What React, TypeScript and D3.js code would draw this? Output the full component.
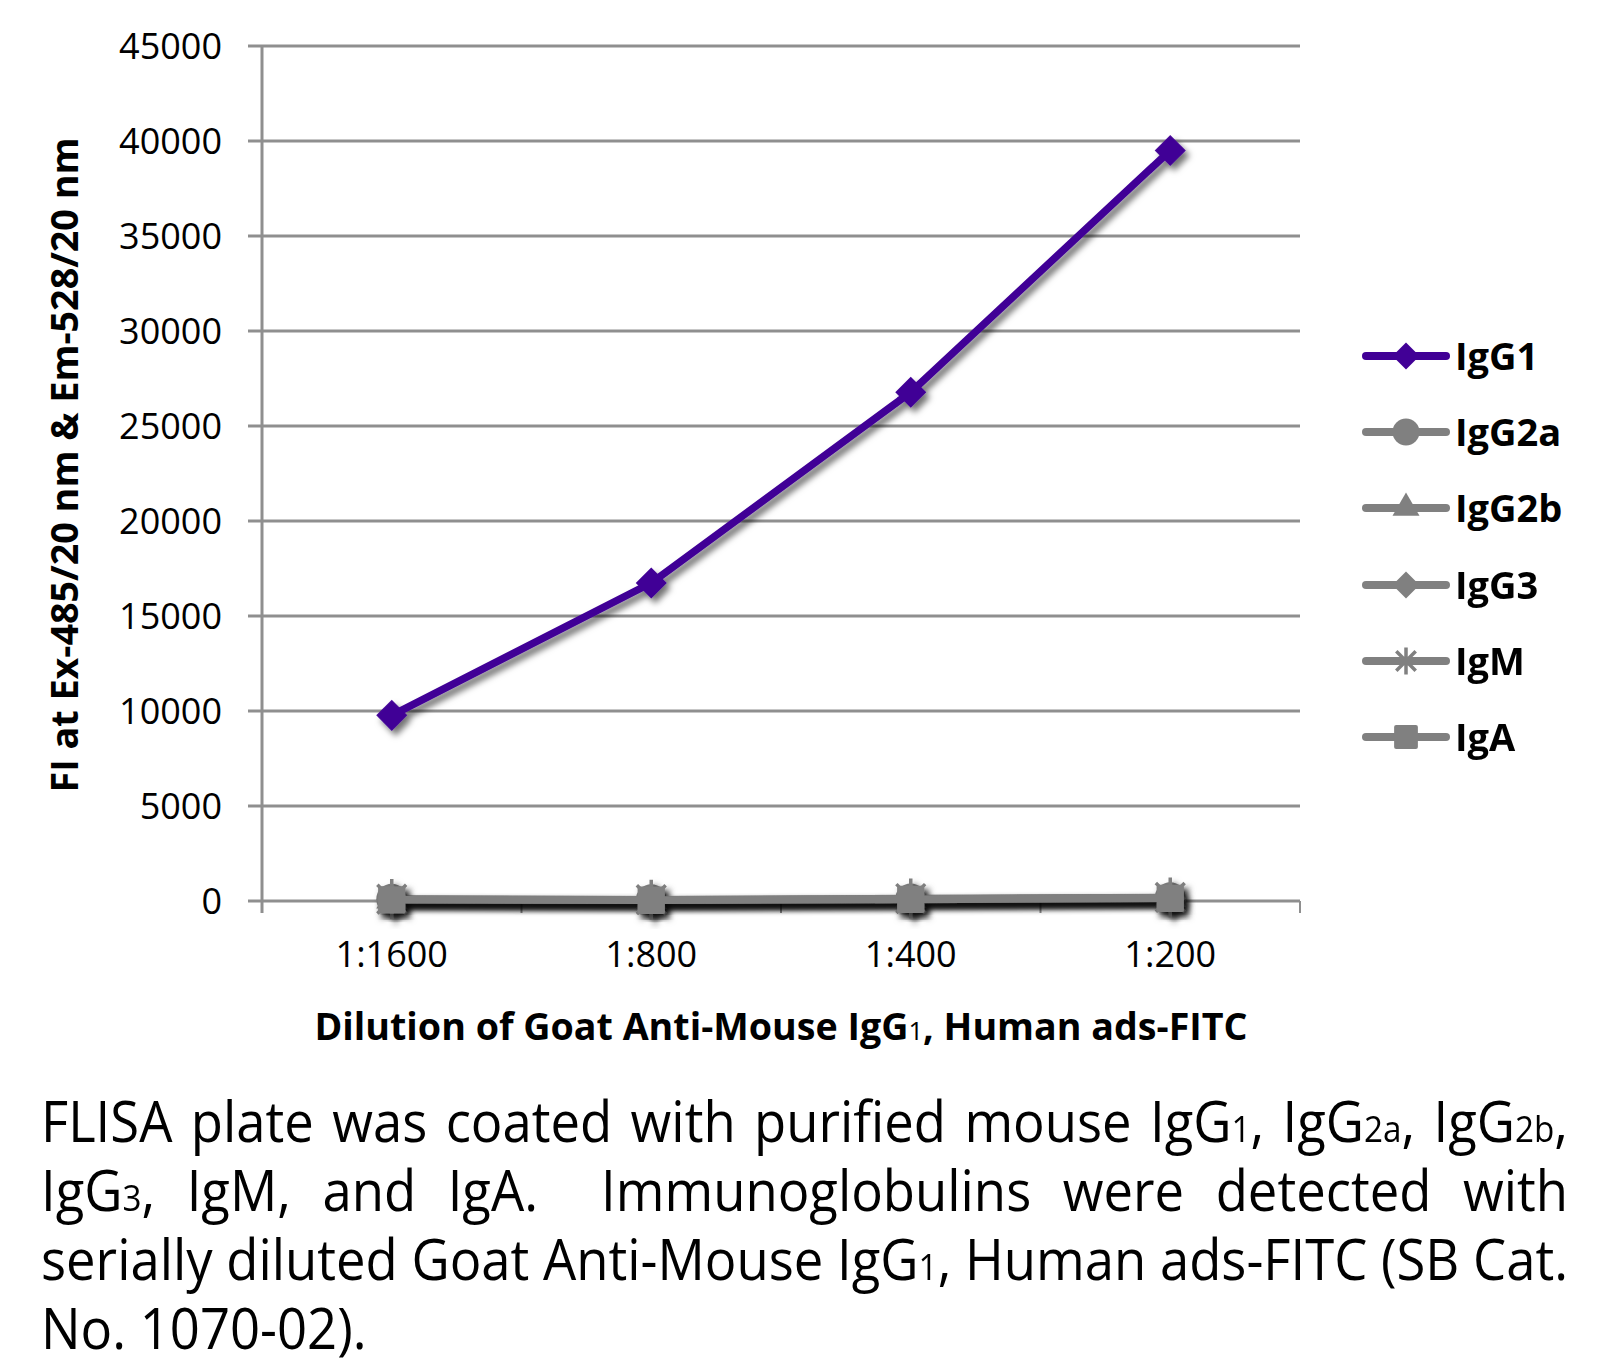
import React, { useEffect, useRef } from 'react';
import * as d3 from 'd3';

const categories = ['1:1600', '1:800', '1:400', '1:200'];
const seriesNames = ['IgG1', 'IgG2a', 'IgG2b', 'IgG3', 'IgM', 'IgA'];
const igG1Values = [9770, 16740, 26780, 39500];
const igG2aValues = [90, 60, 110, 170];
const igG2bValues = [80, 50, 100, 160];
const igG3Values = [70, 40, 90, 150];
const igMValues = [100, 70, 130, 190];
const igAValues = [60, 40, 80, 140];
const yTicks = [0, 5000, 10000, 15000, 20000, 25000, 30000, 35000, 40000, 45000];
const yTitle = 'FI at Ex-485/20 nm & Em-528/20 nm';
const xTitle = 'Dilution of Goat Anti-Mouse IgG_1, Human ads-FITC';
const captionLines = [
  'FLISA plate was coated with purified mouse IgG_1, IgG_2a, IgG_2b,',
  'IgG_3, IgM, and IgA.  Immunoglobulins were detected with',
  'serially diluted Goat Anti-Mouse IgG_1, Human ads-FITC (SB Cat.',
  'No. 1070-02).',
];

const FONT = "'Open Sans', 'Noto Sans', sans-serif";
const PURPLE = '#410096';
const GRAY = '#808080';
const GRID = '#8f8f8f';

type Shape = 'diamond' | 'circle' | 'triangle' | 'star' | 'square';
const seriesValues = [igG1Values, igG2aValues, igG2bValues, igG3Values, igMValues, igAValues];
const seriesColors = [PURPLE, GRAY, GRAY, GRAY, GRAY, GRAY];
const seriesShapes: Shape[] = ['diamond', 'circle', 'triangle', 'diamond', 'star', 'square'];

function drawMarker(g: any, shape: Shape, cx: number, cy: number, size: number, color: string, starSize?: number) {
  if (shape === 'diamond') {
    const s = size / Math.SQRT2;
    g.append('path')
      .attr('d', d3.symbol(d3.symbolSquare, s * s)())
      .attr('transform', `translate(${cx},${cy}) rotate(45)`)
      .attr('fill', color);
  } else if (shape === 'circle') {
    g.append('circle').attr('cx', cx).attr('cy', cy).attr('r', size / 2).attr('fill', color);
  } else if (shape === 'triangle') {
    const area = (Math.sqrt(3) / 4) * size * size;
    g.append('path')
      .attr('d', d3.symbol(d3.symbolTriangle, area)())
      .attr('transform', `translate(${cx},${cy})`)
      .attr('fill', color);
  } else if (shape === 'square') {
    const s = size * 0.88;
    g.append('rect')
      .attr('x', cx - s / 2).attr('y', cy - s / 2)
      .attr('width', s).attr('height', s)
      .attr('rx', 2)
      .attr('fill', color);
  } else if (shape === 'star') {
    const r = (starSize || size) / 2;
    const d = r * 0.72;
    const p = `M${cx - d},${cy - d}L${cx + d},${cy + d}M${cx - d},${cy + d}L${cx + d},${cy - d}M${cx},${cy - r}L${cx},${cy + r}`;
    g.append('path').attr('d', p).attr('stroke', color).attr('stroke-width', 3.5).attr('fill', 'none');
  }
}

function parseWord(w: string) {
  const segs: { t: string; sub: boolean }[] = [];
  const re = /_([0-9a-z]+)/g;
  let last = 0;
  let m: RegExpExecArray | null;
  while ((m = re.exec(w))) {
    if (m.index > last) segs.push({ t: w.slice(last, m.index), sub: false });
    segs.push({ t: m[1], sub: true });
    last = m.index + m[0].length;
  }
  if (last < w.length) segs.push({ t: w.slice(last), sub: false });
  return segs;
}

export default function App() {
  const ref = useRef<SVGSVGElement | null>(null);

  useEffect(() => {
    const svg = d3.select(ref.current);
    svg.selectAll('*').remove();

    const left = 262, right = 1300, top = 46, bottom = 901;
    const x = d3.scaleBand<string>().domain(categories).range([left, right]).padding(0);
    const xc = (c: string) => (x(c) as number) + x.bandwidth() / 2;
    const y = d3.scaleLinear().domain([0, 45000]).range([bottom, top]);

    const defs = svg.append('defs');
    const f = defs.append('filter').attr('id', 'shadow').attr('x', '-20%').attr('y', '-20%').attr('width', '140%').attr('height', '140%');
    f.append('feDropShadow').attr('dx', 4).attr('dy', 5).attr('stdDeviation', 3.2)
      .attr('flood-color', '#000').attr('flood-opacity', 0.55);

    svg.append('rect').attr('width', 1609).attr('height', 1365).attr('fill', '#fff');

    const grid = svg.append('g');
    yTicks.forEach((t) => {
      grid.append('line')
        .attr('x1', left - 14).attr('x2', right)
        .attr('y1', y(t)).attr('y2', y(t))
        .attr('stroke', GRID).attr('stroke-width', 3);
    });
    grid.append('line').attr('x1', left).attr('x2', left).attr('y1', top).attr('y2', bottom + 12)
      .attr('stroke', GRID).attr('stroke-width', 3);
    const bounds = categories.map((c) => x(c) as number).concat([right]);
    bounds.forEach((b) => {
      grid.append('line').attr('x1', b).attr('x2', b).attr('y1', bottom).attr('y2', bottom + 12)
        .attr('stroke', GRID).attr('stroke-width', 2);
    });

    const labG = svg.append('g').attr('font-family', FONT).attr('font-size', 36).attr('fill', '#000');
    yTicks.forEach((t) => {
      labG.append('text').attr('x', 222).attr('y', y(t) + 13).attr('text-anchor', 'end').text(String(t));
    });
    categories.forEach((c) => {
      labG.append('text').attr('x', xc(c)).attr('y', 967).attr('text-anchor', 'middle').text(c);
    });

    svg.append('text')
      .attr('transform', 'translate(78,465) rotate(-90)')
      .attr('text-anchor', 'middle')
      .attr('font-family', FONT).attr('font-weight', 'bold').attr('font-size', 38)
      .attr('textLength', 655).attr('lengthAdjust', 'spacingAndGlyphs')
      .text(yTitle);

    // x title: separate text pieces, fitted to target width
    const xtG = svg.append('g').attr('font-family', FONT).attr('font-size', 38).attr('fill', '#000');
    const xSegs = parseWord(xTitle).map((s) => {
      const t = xtG.append('text').attr('x', 0).attr('y', -300).attr('font-weight', s.sub ? 'normal' : 'bold')
        .attr('font-size', s.sub ? 26 : 38).text(s.t);
      return { el: t, w: (t.node() as SVGTextElement).getComputedTextLength() };
    });
    const xNat = xSegs.reduce((a, b) => a + b.w, 0);
    const xTarget = 933;
    const xs = xTarget / xNat;
    let xcur = (left + right) / 2 - xTarget / 2;
    xSegs.forEach((s) => {
      s.el.attr('x', xcur).attr('y', 1040).attr('textLength', s.w * xs).attr('lengthAdjust', 'spacingAndGlyphs');
      xcur += s.w * xs;
    });

    const order = [1, 2, 3, 4, 5, 0];
    order.forEach((si) => {
      const vals = seriesValues[si];
      const sg = svg.append('g').attr('filter', 'url(#shadow)');
      const line = d3.line<number>().x((_, i) => xc(categories[i])).y((v) => y(v));
      sg.append('path').attr('d', line(vals) as string)
        .attr('fill', 'none').attr('stroke', seriesColors[si]).attr('stroke-width', 7.5)
        .attr('stroke-linejoin', 'round');
      vals.forEach((v, i) => {
        drawMarker(sg, seriesShapes[si], xc(categories[i]), y(v), 31, seriesColors[si], 40);
      });
    });

    const lg = svg.append('g');
    const legY = [356, 432, 508, 585, 661, 737];
    seriesNames.forEach((n, i) => {
      const cy = legY[i];
      lg.append('line').attr('x1', 1366).attr('x2', 1446).attr('y1', cy).attr('y2', cy)
        .attr('stroke', seriesColors[i]).attr('stroke-width', 8).attr('stroke-linecap', 'round');
      drawMarker(lg, seriesShapes[i], 1406, cy, 27, seriesColors[i]);
      lg.append('text').attr('x', 1455).attr('y', cy + 14)
        .attr('font-family', FONT).attr('font-weight', 'bold').attr('font-size', 38)
        .attr('fill', '#000').text(n);
    });

    // caption, justified; each word piece is its own text element
    const capG = svg.append('g').attr('font-family', FONT).attr('font-size', 57).attr('fill', '#000');
    const capLeft = 41, capRight = 1568;
    const baselines = [1142, 1211, 1280, 1349];
    const measureEl = capG.append('text').attr('x', 0).attr('y', -100).text('n\u00A0n');
    const wNN = (measureEl.node() as SVGTextElement).getComputedTextLength();
    measureEl.text('nn');
    const spaceW = wNN - (measureEl.node() as SVGTextElement).getComputedTextLength();
    measureEl.remove();

    const built = captionLines.map((line, li) => {
      const parts = line.split(/( +)/);
      const words: { pieces: { el: any; w: number }[]; w: number }[] = [];
      const gaps: number[] = [];
      parts.forEach((p) => {
        if (p.trim() === '') {
          gaps.push(p.length);
          return;
        }
        const pieces = parseWord(p).map((s) => {
          const t = capG.append('text').attr('x', 0).attr('y', -200).text(s.t);
          if (s.sub) t.attr('font-size', 36);
          return { el: t, w: (t.node() as SVGTextElement).getComputedTextLength() };
        });
        words.push({ pieces, w: pieces.reduce((a, b) => a + b.w, 0) });
      });
      return { words, gaps, li };
    });
    const nat3 = built[2].words.reduce((a, b) => a + b.w, 0) + built[2].gaps.reduce((a, b) => a + b, 0) * spaceW;
    const sx = (capRight - capLeft) / nat3;
    built.forEach(({ words, gaps, li }) => {
      const totalW = words.reduce((a, b) => a + b.w, 0) * sx;
      const gapUnits = gaps.reduce((a, b) => a + b, 0);
      const justify = li < 3;
      const unit = justify ? (capRight - capLeft - totalW) / gapUnits : spaceW * sx;
      let cx = capLeft;
      words.forEach((wd, i) => {
        let px = cx;
        wd.pieces.forEach((pc) => {
          pc.el.attr('x', px).attr('y', baselines[li])
            .attr('textLength', pc.w * sx).attr('lengthAdjust', 'spacingAndGlyphs');
          px += pc.w * sx;
        });
        cx += wd.w * sx + (i < gaps.length ? gaps[i] * unit : 0);
      });
    });
  }, []);

  return (
    <svg
      ref={ref}
      width={1609}
      height={1365}
      style={{ position: 'absolute', left: 0, top: 0, display: 'block' }}
    />
  );
}
